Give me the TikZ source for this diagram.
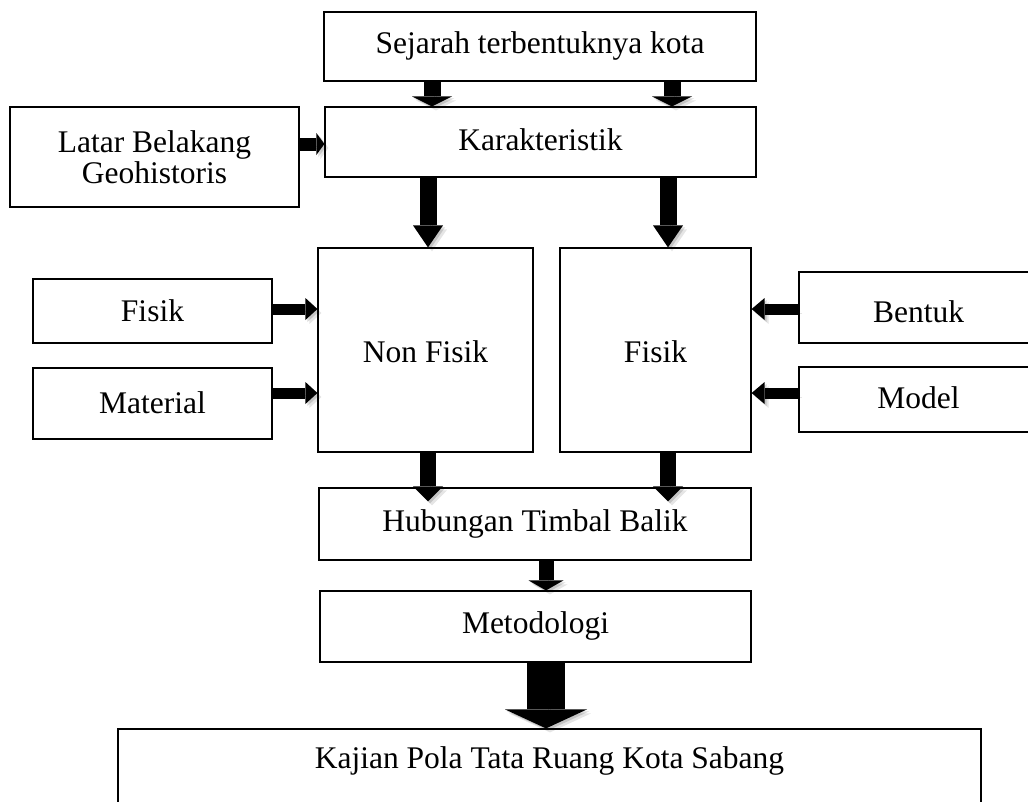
\documentclass[tikz,border=0pt]{standalone}
\usepackage{fontspec}
\setmainfont{Liberation Serif}
\usetikzlibrary{arrows.meta}
\tikzset{
  box/.style={draw, line width=1.2pt, inner sep=0pt, fill=white,
    font=\fontsize{31.5}{31}\selectfont, text height=21pt, text depth=7pt},
  blk/.style n args={3}{line width=#1, line cap=butt,
    -{Triangle[width=#2, length=#3, line width=0pt]},
    preaction={draw=black, opacity=0.10, transform canvas={shift={(4pt,-4pt)}}},
    preaction={draw=black, opacity=0.14, transform canvas={shift={(2pt,-2pt)}}}},
}
\begin{document}
\begin{tikzpicture}[x=1pt,y=-1pt]
\useasboundingbox (0,0) rectangle (1028,801);
\clip (0,0) rectangle (1028,801);
\fill[white] (0,0) rectangle (1028,801);

\node[box, minimum width=432pt, minimum height=69pt] (sej) at (540,46.5) {Sejarah terbentuknya kota};
\node[box, minimum width=431pt, minimum height=70pt, text height=23pt] (kar) at (540.5,142) {Karakteristik};
\node[box, minimum width=289pt, minimum height=100pt, align=center, text height=, text depth=] (lat) at (154.5,157) {Latar Belakang\\Geohistoris};
\node[box, minimum width=215pt, minimum height=204pt, text height=31pt] (nonf) at (425.5,350) {Non Fisik};
\node[box, minimum width=191pt, minimum height=204pt, text height=31pt] (fis) at (655.5,350) {Fisik};
\node[box, minimum width=239pt, minimum height=64pt, text height=27pt] (lfis) at (152.5,311) {Fisik};
\node[box, minimum width=239pt, minimum height=71pt, text height=27pt] (mat) at (152.5,403.5) {Material};
\node[box, minimum width=239pt, minimum height=71pt, text height=37pt] (bent) at (918.5,307.5) {Bentuk};
\node[box, minimum width=239pt, minimum height=65pt, text height=25pt] (mod) at (918.5,399.5) {Model};
\node[box, minimum width=432pt, minimum height=72pt] (hub) at (535,524) {Hubungan Timbal Balik};
\node[box, minimum width=431pt, minimum height=71pt] (met) at (535.5,626.5) {Metodologi};
\node[box, minimum width=863pt, minimum height=111pt, text depth=53pt] (kaj) at (549.5,784.5) {Kajian Pola Tata Ruang Kota Sabang};

\coordinate (cA) at (432,0);
\coordinate (cB) at (672,0);
\coordinate (cC) at (428,0);
\coordinate (cD) at (668,0);
\coordinate (cE) at (546,0);
\coordinate (rA) at (0,144);
\coordinate (rB) at (0,309);
\coordinate (rC) at (0,393);
\coordinate (hubtip) at ([yshift=-14pt]hub.north);

\draw[blk={17pt}{40pt}{10pt}] (sej.south -| cA) -- (kar.north -| cA);
\draw[blk={17pt}{40pt}{10pt}] (sej.south -| cB) -- (kar.north -| cB);
\draw[blk={13pt}{22pt}{8pt}] (lat.east |- rA) -- (kar.west |- rA);
\draw[blk={17pt}{30pt}{22pt}] (kar.south -| cC) -- (nonf.north -| cC);
\draw[blk={17pt}{30pt}{22pt}] (kar.south -| cD) -- (fis.north -| cD);
\draw[blk={11pt}{22pt}{12pt}] (lfis.east |- rB) -- (nonf.west |- rB);
\draw[blk={11pt}{22pt}{12pt}] (mat.east |- rC) -- (nonf.west |- rC);
\draw[blk={11pt}{22pt}{13pt}] (bent.west |- rB) -- (fis.east |- rB);
\draw[blk={11pt}{22pt}{13pt}] (mod.west |- rC) -- (fis.east |- rC);
\draw[blk={16pt}{30pt}{15pt}] (nonf.south -| cC) -- (hubtip -| cC);
\draw[blk={16pt}{30pt}{15pt}] (fis.south -| cD) -- (hubtip -| cD);
\draw[blk={15pt}{35pt}{10pt}] (hub.south -| cE) -- (met.north -| cE);
\draw[blk={38pt}{82pt}{19pt}] (met.south -| cE) -- (kaj.north -| cE);
\end{tikzpicture}
\end{document}
